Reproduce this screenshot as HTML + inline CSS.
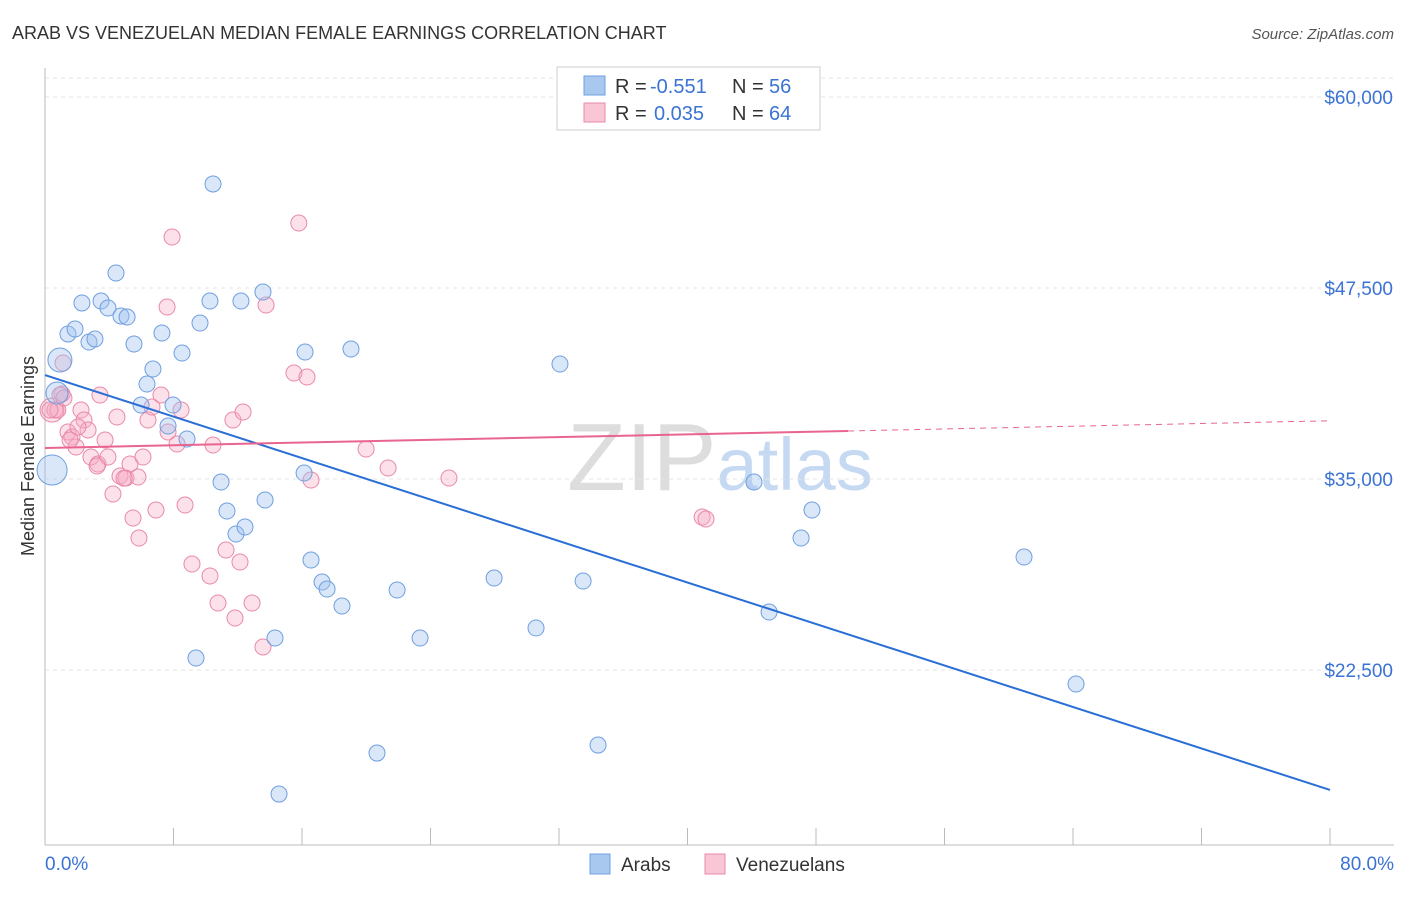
<!DOCTYPE html>
<html><head><meta charset="utf-8"><style>
body{margin:0;background:#fff;font-family:"Liberation Sans",sans-serif;}
svg text{font-family:"Liberation Sans",sans-serif;}
</style></head><body>
<svg id="chart" width="1406" height="892" xmlns="http://www.w3.org/2000/svg">
<text x="12" y="39" font-size="18" fill="#333">ARAB VS VENEZUELAN MEDIAN FEMALE EARNINGS CORRELATION CHART</text>
<text x="1394" y="39" font-size="15" fill="#555" text-anchor="end" font-style="italic">Source: ZipAtlas.com</text>
<text x="720" y="490" font-size="96" fill="#ddd" text-anchor="middle" font-family="Liberation Serif">ZIP<tspan fill="#c6d9f2" font-family="Liberation Sans" font-size="74">atlas</tspan></text>
<g id="grid"></g>
<g id="axes"></g>
<g id="marks"></g>
<text transform="translate(34,456) rotate(-90)" font-size="18" fill="#333" text-anchor="middle">Median Female Earnings</text>
<g>
<rect x="557" y="67" width="263" height="63" fill="#fff" stroke="#ccc"/>
<rect x="584" y="76" width="21" height="19" fill="#a9c8f0" stroke="#6f9fe0"/>
<text x="615" y="93" font-size="20" fill="#333">R = <tspan x="650" fill="#3b73d4">-0.551</tspan><tspan x="732">N =</tspan><tspan x="769" fill="#3b73d4">56</tspan></text>
<rect x="584" y="103" width="21" height="19" fill="#f8c6d5" stroke="#e88aa8"/>
<text x="615" y="120" font-size="20" fill="#333">R = <tspan x="654" fill="#3b73d4">0.035</tspan><tspan x="732">N =</tspan><tspan x="769" fill="#3b73d4">64</tspan></text>
</g>
<rect x="590" y="854" width="20" height="20" fill="#a9c8f0" stroke="#6f9fe0"/>
<text x="621" y="871" font-size="19" fill="#333">Arabs</text>
<rect x="705" y="854" width="20" height="20" fill="#f8c6d5" stroke="#e88aa8"/>
<text x="736" y="871" font-size="19" fill="#333">Venezuelans</text>
</svg>
<script>
const yTicks=[60000,47500,35000,22500];
const yTickLabels=["$60,000","$47,500","$35,000","$22,500"];
const xTickLabels=["0.0%","80.0%"];
const arabX=[0.44,0.93,0.75,1.43,1.87,2.30,2.74,3.11,3.49,3.92,4.42,4.73,5.11,5.54,5.98,6.35,6.72,7.28,7.66,7.97,8.53,8.84,9.40,9.65,10.27,10.46,10.96,11.33,11.89,12.45,12.20,13.57,13.70,14.32,14.57,16.13,16.19,16.56,17.25,17.56,18.49,19.05,20.67,21.92,23.35,27.96,30.57,32.06,33.50,34.43,44.14,45.08,47.07,47.75,60.95,64.19];
const arabY=[35587,42787,40627,44489,44816,46518,43965,44162,46648,46190,48481,45667,45601,43834,39841,41216,42198,44554,38467,39841,43245,37616,23282,45208,46648,54306,34802,32904,31398,31856,46648,47237,33624,24592,14381,35391,43310,29697,28257,27799,26687,43507,17064,27733,24592,28519,25246,42525,28323,17588,34802,26294,31136,32969,29893,21581];
const venX=[0.44,1.06,0.62,0.8,1.12,1.43,1.68,1.93,2.24,2.43,2.68,2.86,3.30,3.42,3.74,3.92,4.23,4.48,4.67,5.04,5.29,5.48,5.79,5.85,6.10,6.41,6.66,6.91,7.22,7.60,7.66,7.91,8.22,8.47,8.72,9.15,10.27,10.46,10.77,11.27,11.70,11.83,12.14,12.33,12.89,13.57,13.76,15.50,15.80,16.31,16.56,19.99,21.36,25.15,37.05,40.91,41.15,0.93,0.31,1.18,1.56,3.24,4.92,2.05];
const venY=[39514,40562,39514,39514,42590,38075,37747,37093,39514,38860,38205,36438,35980,40496,37551,36438,34016,39056,35194,35063,35980,32446,35129,31136,36438,38860,39711,32969,40496,46255,38075,50837,37289,39514,33296,29435,28650,37224,26883,30351,38860,25900,29566,39383,26883,24003,46386,41936,51753,41674,34933,36962,35718,35063,59738,32511,32380,40496,39514,40300,37551,35850,35050,38400];
const arabSize=[15,12,11];
const venSize=[12];
const arabTrend=[41800,14650];
const venTrend=[37030,38810];
const X=v=>45+v/80*1285, Y=v=>97+(60000-v)/12500*191;
const NS="http://www.w3.org/2000/svg";
function mk(p,t,a){const e=document.createElementNS(NS,t);for(const k in a)e.setAttribute(k,a[k]);p.appendChild(e);return e;}
const grid=document.getElementById('grid'),axes=document.getElementById('axes'),marks=document.getElementById('marks');
const topLine=mk(grid,'line',{x1:45,x2:1394,y1:78,y2:78,stroke:'#e4e4e4','stroke-dasharray':'4,4'});


yTicks.forEach((v,i)=>{
 const l=mk(grid,'line',{x1:45,x2:1394,y1:Y(v),y2:Y(v),stroke:'#e4e4e4','stroke-dasharray':'4,4'});
 
 
 const t=mk(axes,'text',{x:1393,y:Y(v)+7,'font-size':19,fill:'#3b73d4','text-anchor':'end'});t.textContent=yTickLabels[i];
 
 
});
const ya=mk(axes,'line',{x1:45,x2:45,y1:68,y2:845,stroke:'#bbb'});


const xa=mk(axes,'line',{x1:45,x2:1394,y1:845,y2:845,stroke:'#bbb'});


for(let i=0;i<=10;i++){const tk=mk(axes,'line',{x1:X(i*8),x2:X(i*8),y1:828,y2:845,stroke:'#bbb'});
 
 }
[[0,'start',45],[80,'end',1394]].forEach((d,i)=>{const t=mk(axes,'text',{x:d[2],y:870,'font-size':19,fill:'#3b73d4','text-anchor':d[1]});t.textContent=xTickLabels[i];
 
 });
venX.forEach((x,i)=>{const c=mk(marks,'circle',{cx:X(x),cy:Y(venY[i]),r:venSize[i]||8,fill:'rgba(245,170,195,0.35)',stroke:'#e88aa8','stroke-width':1});
 
 });
arabX.forEach((x,i)=>{const c=mk(marks,'circle',{cx:X(x),cy:Y(arabY[i]),r:arabSize[i]||8,fill:'rgba(160,195,240,0.4)',stroke:'#6f9fe0','stroke-width':1});
 
 });
const bt=mk(marks,'line',{x1:X(0),y1:Y(arabTrend[0]),x2:X(80),y2:Y(arabTrend[1]),stroke:'#2a6fd6','stroke-width':2});


const vy=x=>venTrend[0]+(venTrend[1]-venTrend[0])*x/80;
const pt=mk(marks,'line',{x1:X(0),y1:Y(vy(0)),x2:X(50),y2:Y(vy(50)),stroke:'#e8658f','stroke-width':2});


const pd=mk(marks,'line',{x1:X(50),y1:Y(vy(50)),x2:X(80),y2:Y(vy(80)),stroke:'#e8658f','stroke-width':1,'stroke-dasharray':'6,5'});


</script>
</body></html>
